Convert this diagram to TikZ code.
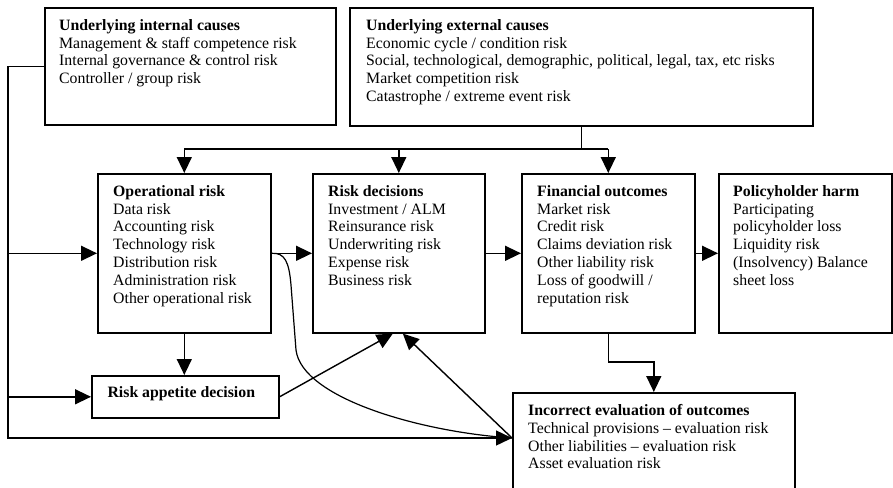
\documentclass[tikz,border=0pt]{standalone}
\usepackage{fontspec}
\setmainfont{Liberation Serif}
\usetikzlibrary{arrows.meta}
\begin{document}
\begin{tikzpicture}[x=1pt,y=-1pt,
  riskbox/.style={draw, line width=1.6pt, rectangle, inner sep=0pt, anchor=north west},
  boxtext/.style={anchor=north west, inner sep=0pt, align=left, font=\fontsize{15.8}{17.8}\selectfont},
  wire/.style={line width=1.4pt},
  arr/.style={wire, -{Triangle[length=16pt,width=15pt]}},
]
\useasboundingbox (0,0) rectangle (893,487);
\clip (0,0) rectangle (893,487);

% frames
\node[riskbox, minimum width=291pt, minimum height=117pt] (int) at (44,7) {};
\node[riskbox, minimum width=463pt, minimum height=118pt] (ext) at (349,7) {};
\node[riskbox, minimum width=173pt, minimum height=159pt] (op)  at (97,173) {};
\node[riskbox, minimum width=172pt, minimum height=159pt] (rd)  at (312,173) {};
\node[riskbox, minimum width=173pt, minimum height=159pt] (fin) at (521,173) {};
\node[riskbox, minimum width=173pt, minimum height=159pt] (ph)  at (718,173) {};
\node[riskbox, minimum width=187pt, minimum height=42pt] (ra) at (91,375) {};
\node[riskbox, minimum width=282pt, minimum height=115pt] (ev) at (512,392) {};

% contents
\node[boxtext, anchor=base, font=\fontsize{15.8}{17.8}\selectfont\bfseries] (raT)
  at ([shift={(-4,1)}]ra.center) {Risk appetite decision};
\node[boxtext] (intT) at ([shift={(15,12.2)}]int.north west)
  {\textbf{Underlying internal causes}\\Management \& staff competence risk\\Internal governance \& control risk\\Controller / group risk};
\node[boxtext] (extT) at ([shift={(17,12.2)}]ext.north west)
  {\textbf{Underlying external causes}\\Economic cycle / condition risk\\Social, technological, demographic, political, legal, tax, etc risks\\Market competition risk\\Catastrophe / extreme event risk};
\node[boxtext] (opT) at ([shift={(16,12.2)}]op.north west)
  {\textbf{Operational risk}\\Data risk\\Accounting risk\\Technology risk\\Distribution risk\\Administration risk\\Other operational risk};
\node[boxtext] (rdT) at ([shift={(16,12.2)}]rd.north west)
  {\textbf{Risk decisions}\\Investment / ALM\\Reinsurance risk\\Underwriting risk\\Expense risk\\Business risk};
\node[boxtext] (finT) at ([shift={(16,12.2)}]fin.north west)
  {\textbf{Financial outcomes}\\Market risk\\Credit risk\\Claims deviation risk\\Other liability risk\\Loss of goodwill /\\reputation risk};
\node[boxtext] (phT) at ([shift={(15,12.2)}]ph.north west)
  {\textbf{Policyholder harm}\\Participating\\policyholder loss\\Liquidity risk\\(Insolvency) Balance\\sheet loss};
\node[boxtext] (evT) at ([shift={(16,12.2)}]ev.north west)
  {\textbf{Incorrect evaluation of outcomes}\\Technical provisions – evaluation risk\\Other liabilities – evaluation risk\\Asset evaluation risk};

% helper coordinates
\coordinate (busY) at (0,149);
\coordinate (railX) at (8,0);
\coordinate (finDrop) at (0,362);
\coordinate (evIn) at (ev.west |- 0,438);

% external causes feed the three middle boxes
\draw[wire] (ext.south) -- (ext.south |- busY);
\draw[wire] (op.north |- busY) -- (fin.north |- busY);
\draw[arr] (op.north |- busY) -- (op.north);
\draw[arr] (rd.north |- busY) -- (rd.north);
\draw[arr] (fin.north |- busY) -- (fin.north);

% internal causes rail on the left
\draw[arr] (int.west) -| (railX |- evIn) -- (evIn);
\draw[arr] (railX |- op.west) -- (op.west);
\draw[arr] (railX |- ra.west) -- (ra.west);

% main chain
\draw[arr] (op.east) -- (rd.west);
\draw[arr] (rd.east) -- (fin.west);
\draw[arr] (fin.east) -- (ph.west);

% feedback links
\draw[arr] (op.south) -- (op.south |- ra.north);
\draw[arr] (ra.east) -- ([xshift=-6pt]rd.south);
\draw[arr] (evIn) -- ([xshift=4pt]rd.south);
\draw[line width=1.2pt] (op.east) .. controls (285,252.5) and (289,262) .. (291,285)
  -- (296,350) .. controls (302,398) and (420,432) .. (evIn);
\draw[arr] (fin.south) -- (fin.south |- finDrop) -| (ev.north);
\end{tikzpicture}
\end{document}
